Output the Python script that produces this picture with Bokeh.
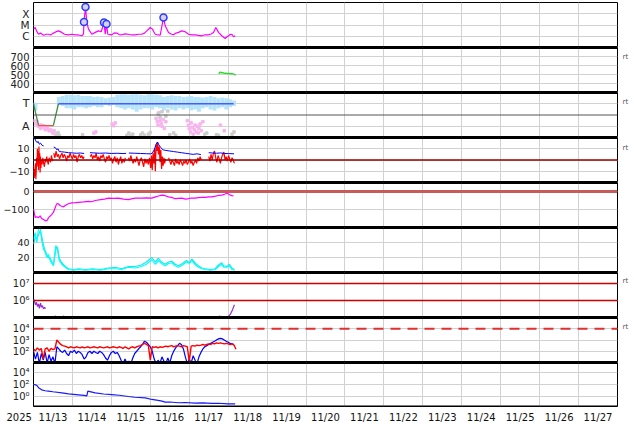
import numpy as np
from bokeh.plotting import figure
from bokeh.layouts import column
from bokeh.models import Range1d, FixedTicker, Span, LinearAxis, LogAxis, AllLabels
from bokeh.embed import file_html
from bokeh.resources import INLINE

nan = float("nan")

# ---------------- data: time in days since 2025-11-13 00:00 UT ----------------
day_ticks = list(range(0, 16))
day_label_t = [d + 0.5 for d in range(15)]
day_labels = ["11/13", "11/14", "11/15", "11/16", "11/17", "11/18", "11/19", "11/20",
              "11/21", "11/22", "11/23", "11/24", "11/25", "11/26", "11/27"]
year_label = "2025"

# panel 1: X-ray flux (W/m2)
xray_t = [0.000, 0.044, 0.077, 0.128, 0.18, 0.257, 0.334, 0.385, 0.437, 0.514,
          0.591, 0.642, 0.727, 0.796, 0.899, 0.976, 1.071, 1.156, 1.241, 1.284,
          1.297, 1.336, 1.369, 1.413, 1.498, 1.585, 1.670, 1.739, 1.811, 1.842,
          1.875, 1.909, 2.011, 2.075, 2.140, 2.2, 2.268, 2.35, 2.440, 2.52,
          2.612, 2.7, 2.782, 2.85, 2.910, 2.998, 3.057, 3.09, 3.126, 3.2,
          3.254, 3.339, 3.383, 3.468, 3.53, 3.596, 3.66, 3.725, 3.809, 3.897,
          3.982, 4.07, 4.154, 4.24, 4.323, 4.41, 4.495, 4.56, 4.624, 4.683,
          4.752, 4.837, 4.924, 4.97, 5.009, 5.05, 5.094, 5.14, 5.181]
xray_v = [4.3e-6, 6.0e-6, 3.0e-6, 1.5e-6, 1.9e-6, 1.23e-6, 1.5e-6, 1.5e-6, 1.3e-6, 1.9e-6,
          2.6e-6, 3.0e-6, 2.2e-6, 1.5e-6, 1.35e-6, 1.5e-6, 1.35e-6, 1.3e-6, 1.1e-6, 1.6e-6,
          1.85e-5, 4.0e-4, 1.66e-5, 4.3e-6, 1.5e-6, 2.2e-6, 3.0e-6, 2.5e-6, 1.66e-5, 1.5e-6,
          1.23e-5, 1.5e-6, 1.35e-6, 2.0e-6, 1.9e-6, 1.4e-6, 1.35e-6, 1.6e-6, 1.5e-6, 1.3e-6,
          1.35e-6, 1.5e-6, 1.5e-6, 1.9e-6, 3.0e-6, 6.0e-6, 4.3e-6, 2.5e-6, 1.5e-6, 1.3e-6,
          1.23e-6, 4.6e-5, 8.5e-6, 2.2e-6, 1.6e-6, 1.35e-6, 1.9e-6, 2.2e-6, 3.0e-6, 2.5e-6,
          1.5e-6, 1.35e-6, 1.35e-6, 1.2e-6, 1.1e-6, 1.35e-6, 1.35e-6, 1.6e-6, 2.2e-6, 6.0e-6,
          2.2e-6, 1.1e-6, 6.3e-7, 9e-7, 1.1e-6, 1.4e-6, 1.5e-6, 9e-7, 1.1e-6]
flare_t = [1.297, 1.336, 1.811, 1.875, 3.339]
flare_v = [1.85e-5, 4.0e-4, 1.66e-5, 1.23e-5, 4.6e-5]
xray_ticks = [1e-6, 1e-5, 1e-4]
xray_labels = ["C", "M", "X"]

# panel 2: solar wind speed (km/s)
sw_t = [4.76, 4.78, 4.80, 4.83, 4.86, 4.90, 4.94, 4.98, 5.02, 5.06, 5.10, 5.14, 5.17, 5.19]
sw_v = [505, 522, 526, 518, 520, 512, 515, 510, 512, 508, 511, 505, 500, 492]
sw_ticks = [400, 500, 600, 700]

# panel 3: IMF sector (T = toward, A = away)
sector_t = [0.0, 0.13, 0.51, 0.64, 5.14]
sector_v = [1.0, -0.95, -0.95, 1.0, 1.0]
toward_t = [0.05, 0.65, 0.75, 0.85, 0.95, 1.05, 1.15, 1.25, 1.35, 1.45, 1.55, 1.65, 1.75, 1.85,
            1.95, 2.05, 2.15, 2.25, 2.35, 2.45, 2.55, 2.65, 2.75, 2.85, 2.95, 3.05, 3.15, 3.25,
            3.35, 3.45, 3.55, 3.65, 3.75, 3.85, 3.95, 4.05, 4.15, 4.25, 4.35, 4.45, 4.55, 4.65,
            4.75, 4.85, 4.95, 5.05, 5.15]
toward_lo = [0.4, 0.9, 0.8, 0.6, 0.6, 0.5, 0.7, 0.7, 0.6, 0.7, 0.8, 0.7, 0.7, 0.9, 0.8, 0.9,
             0.7, 0.6, 0.5, 0.6, 0.5, 0.3, 0.5, 0.6, 0.6, 0.5, 0.7, 0.6, 0.4, 0.6, 0.5, 0.4,
             0.6, 0.5, 0.6, 0.4, 0.5, 0.3, 0.6, 0.7, 0.5, 0.4, 0.6, 0.7, 0.5, 0.7, 0.8]
toward_hi = [1.1, 1.6, 1.7, 1.8, 1.8, 1.75, 1.8, 1.7, 1.7, 1.7, 1.6, 1.65, 1.6, 1.5, 1.55, 1.6,
             1.8, 1.85, 1.85, 1.8, 1.85, 1.85, 1.8, 1.75, 1.85, 1.85, 1.8, 1.75, 1.6, 1.7, 1.75,
             1.7, 1.7, 1.6, 1.65, 1.7, 1.6, 1.6, 1.55, 1.6, 1.7, 1.6, 1.5, 1.55, 1.5, 1.4, 1.3]
away_t = [0.03, 0.06, 0.09, 0.12, 0.15, 0.18, 0.20, 0.23, 0.26, 0.30, 0.33, 0.36, 0.40, 0.44,
          0.48, 0.50, 0.53, 0.56, 1.55, 1.60, 2.02, 2.06, 2.10, 3.15, 3.18, 3.20, 3.22, 3.25,
          3.28, 3.30, 3.33, 3.36, 3.40, 3.95, 3.98, 4.00, 4.03, 4.05, 4.08, 4.10, 4.13, 4.15,
          4.18, 4.20, 4.23, 4.25, 4.28, 4.31, 4.35, 4.80, 4.90]
away_v = [-0.5, -0.8, -0.6, -1.0, -0.9, -1.2, -0.9, -1.1, -0.95, -1.3, -1.05, -1.2, -1.4, -1.3,
          -1.5, -1.6, -1.4, -1.7, -1.6, -1.5, -0.8, -0.95, -0.7, -0.3, -0.6, -0.9, 0.2, -0.5,
          -0.75, -1.0, -0.4, -1.2, -0.6, -0.5, -0.9, -1.2, -1.5, -0.7, -1.1, -1.7, -1.3, -0.9,
          -1.5, -1.0, -1.6, -1.2, -0.8, -1.4, -0.6, -0.9, -1.4]
undef_t = [0.60, 0.63, 0.66, 1.26, 2.40, 2.45, 2.50, 2.55, 2.75, 2.80, 2.85, 2.95, 3.00, 3.20,
           3.25, 3.30, 3.40, 3.45, 3.50, 3.60, 3.65, 4.40, 4.45, 4.70, 4.75, 5.10, 5.15]
undef_v = [-1.7, -1.55, -1.8, -1.75, -1.8, -1.6, -1.85, -1.7, -1.75, -1.6, -1.8, -1.7, -1.55, 0.1,
           -0.2, 0.3, -0.1, 0.35, -1.75, -1.6, -1.8, -1.7, -1.6, -1.75, -1.8, -1.7, -1.5]
sector_ticks = [-1, 1]
sector_labels = ["A", "T"]

# panel 4: IMF Bt and Bz (nT)
bt_t = [0.00, 0.03, 0.06, 0.09, 0.12, 0.15, 0.18, 0.22, 0.26, 0.30,
        0.52, 0.56, 0.60, 0.63, 0.66, 0.72, 0.80, 0.90, 1.00, 1.10, 1.20, 1.30, 1.33,
        1.45, 1.55, 1.70, 1.85, 2.00, 2.15, 2.30, 2.38, 2.42,
        2.45, 2.60, 2.75, 2.90, 3.00, 3.05, 3.10, 3.15, 3.18, 3.22, 3.27, 3.33, 3.40, 3.50,
        3.60, 3.70, 3.80, 3.90, 4.00, 4.10, 4.20, 4.30, 4.35,
        4.50, 4.60, 4.70, 4.80, 4.90, 5.00, 5.10, 5.15]
bt_v = [18, 19.5, 17, 15.5, 16.5, 14, 15, 13, 12.5, nan,
        11.5, 11, 9, 10, 7.5, 7.3, 7, 6.5, 6.3, 6.0, 6.2, 5.8, nan,
        6.5, 6.3, 6.0, 6.2, 5.8, 6.0, 5.7, 5.9, nan,
        6.2, 6.0, 5.8, 5.6, 5.5, 6, 9, 14, 16, 13.5, 11, 9, 8.5, 8,
        7.5, 7, 6.5, 6, 5.5, 5.0, 5.5, 4.8, nan,
        6.5, 6.2, 6.0, 6.3, 5.8, 5.7, 5.6, 5.5]
# Bz: (start day, sampling step in days, values) blocks; a gap follows where flagged
bz_blocks = [
    (0.00, 0.01, [-5, -12, -16, -8, -14, -3, -17, -10, 2, -6, 10, -4, 8, -9, 12, -2, 6, -11, 3, -7, 0]),
    (0.22, 0.02, [-4, 2, -3, -6, 1, -2, 3, -1, -4, 2, 0, -2, 4, 1, -1]),
    (0.52, 0.03, [6, 2, 8, 3, 5, 1, 4, 6, 2, 5, 3, -1, 4, 2, 6, 3, 1, 5, 2, 4, -2, 3, 5, 2, 4, 1, 3]),
    (1.46, 0.03, [3, 5, 1, 4, 2, 6, 0, 3, -1, 4, 2, 5, 1, -2, 3, 1, 4, 0, 2, -3, 1, 3, -2, 2, -4, 0, 3, -3, 1, -2, 2]),
    (2.44, 0.03, [2, -1, 4, 0, -3, 1, -2, 3, -1, -5, 0, 2, -2, -6, 1, -3, 0, -4, 2, -7]),
    (3.03, 0.02, [4, -9, 6, -3, 10, -10, 14, 8, 16, 5, 12, -2, 9, -8, 3, -5, 2, -3, 1]),
    (3.47, 0.03, [2, -1, -4, 0, -2, -5, 1, -3, -1, -4, 0, -2, -5, -1, -3, 0, -4, -2, 1, -3, -1, -5, -2, 0, -3, 2, -1, 3, 0]),
    (4.50, 0.03, [3, -1, 5, 0, 6, 8, 2, -2, 4, 1, -3, 2, 5, 7, 0, 3, -1, 4, 1, -2, 2, 0, -3]),
]
bz_gap_after = [False, True, True, True, False, True, True, False]
imf_ticks = [-10, 0, 10]
imf_labels = ["\u221210", "0", "10"]

# panel 5: Dst (nT)
dst_t = [0, 0.044, 0.077, 0.128, 0.172, 0.205, 0.257, 0.316, 0.36, 0.385, 0.437, 0.47, 0.514,
         0.557, 0.591, 0.624, 0.686, 0.719, 0.771, 0.855, 0.899, 0.984, 1.079, 1.156, 1.284,
         1.413, 1.49, 1.585, 1.721, 1.824, 1.927, 2.055, 2.183, 2.312, 2.44, 2.543, 2.612,
         2.782, 2.903, 3.039, 3.134, 3.211, 3.296, 3.365, 3.468, 3.545, 3.64, 3.725, 3.809,
         3.904, 3.982, 4.058, 4.154, 4.238, 4.323, 4.418, 4.495, 4.58, 4.675, 4.752, 4.837,
         4.906, 4.966, 5.009, 5.053, 5.099, 5.137]
dst_v = [-98, -145, -140, -145, -135, -150, -155, -164, -158, -145, -135, -127, -115, -90, -70,
         -67, -78, -82, -85, -72, -68, -63, -62, -60, -58, -55, -57, -50, -45, -42, -37, -38,
         -37, -42, -45, -40, -37, -37, -35, -37, -30, -25, -20, -22, -30, -33, -40, -38, -37,
         -42, -40, -36, -37, -34, -32, -33, -30, -30, -26, -22, -20, -15, -10, -14, -20, -23, -25]
dst_ticks = [-100, 0]
dst_labels = ["\u2212100", "0"]

# panel 6: proton density (p/cc), two sources
dens_t = [0.0, 0.044, 0.085, 0.128, 0.172, 0.213, 0.257, 0.30, 0.342, 0.385, 0.429, 0.47, 0.514,
          0.573, 0.616, 0.66, 0.727, 0.814, 0.899, 1.03, 1.156, 1.336, 1.516, 1.721, 1.927, 2.1,
          2.26, 2.44, 2.62, 2.77, 2.90, 3.04, 3.126, 3.211, 3.288, 3.383, 3.468, 3.553, 3.64,
          3.725, 3.827, 3.93, 4.007, 4.066, 4.161, 4.238, 4.323, 4.41, 4.547, 4.667, 4.752,
          4.837, 4.88, 4.966, 5.035, 5.094, 5.163]
dens1_v = [44, 53, 40, 58, 60, 42, 31, 27, 20, 24, 16, 12, 9, 36, 31, 16, 11, 7, 4, 3, 4, 3, 4, 3,
           5, 5, 4, 7, 6, 8, 11, 17, 11, 16, 12, 9, 12, 13, 9, 7, 10, 14, 12, 16, 10, 7, 5, 4, 3,
           4, 8, 11, 7, 7, 9, 4, 3]
dens2_v = [38, 47, 45, 50, 56, 48, 36, 29, 24, 20, 19, 14, 11, 31, 34, 19, 13, 8, 5, 4, 5, 4, 5, 4,
           6, 7, 5, 8, 8, 10, 14, 20, 14, 19, 14, 11, 14, 15, 11, 9, 12, 16, 13, 18, 12, 9, 6, 5, 4,
           5, 10, 13, 9, 8, 11, 6, 4]
dens_ticks = [20, 40]

# panel 7: electron series
e_t = [0.0, 0.026, 0.05, 0.077, 0.1, 0.128, 0.15, 0.18, 0.205, 0.23, 0.257, 0.283, 0.31, nan,
       0.56, 0.565, nan, 0.77, 0.775, nan, 3.29, 3.295, nan, 4.78, 4.785, nan, 4.93, 4.935, nan,
       5.01, 5.06, 5.11, 5.16]
e_v = [1.26e6, 8.9e5, 5.6e5, 7.9e5, 4.5e5, 6.3e5, 3.5e5, 7.1e5, 4.0e5, 5.0e5, 3.2e5, 4.0e5, 3.3e5, nan,
       1.0e5, 1.3e5, nan, 1.0e5, 1.3e5, nan, 1.0e5, 1.25e5, nan, 1.0e5, 1.3e5, nan, 1.0e5, 1.2e5, nan,
       1.2e5, 1.6e5, 2.8e5, 5.6e5]
e_ticks = [1e6, 1e7]
e_labels = ["10\u2076", "10\u2077"]

# panel 8: electron flux, two channels, sampled every 0.05 day
flux_step = 0.05
flux_blue = [100, 20, 79, 8, 63, 16, 79, 9, 50, 13, 32, 8, 250, 160, 100, 79, 126, 63, 40, 100,
             79, 126, 63, 100, 79, 50, 20, 32, 79, 100, 63, 100, 79, 63, 100, 79, 50, 25, 16, 40,
             79, 100, 63, 79, 40, 16, 8, 20, 9, 13, 8, 25, 63, 100, 160, 250, 400, 790, 630, 400,
             250, 100, 20, 8, 16, 9, 32, 13, 8, 25, 9, 40, 100, 200, 316, 500, 400, 160, 32, 8,
             20, 9, 40, 16, 8, 32, 79, 160, 250, 316, 400, 500, 630, 790, 1000, 1260, 1400, 1260,
             1000, 790, 630, 500, 450, 400]
flux_red = [160, 112, 200, 126, 178, 20, 160, 200, 100, 178, 141, 160, 1000, 630, 400, 316, 282,
            250, 200, 250, 224, 200, 250, 224, 200, 250, 200, 224, 250, 200, 224, 250, 224, 200,
            250, 224, 200, 224, 250, 200, 224, 250, 224, 200, 250, 224, 178, 250, 200, 160, 224,
            250, 200, 250, 282, 316, 400, 500, 400, 316, 16, 250, 224, 250, 200, 250, 224, 250,
            282, 250, 282, 316, 250, 282, 316, 282, 250, 316, 282, 250, 12, 282, 316, 282, 355,
            316, 355, 400, 355, 400, 450, 400, 500, 450, 560, 500, 560, 500, 450, 500, 450, 400,
            450, 355, 150]
flux_ticks = [1e2, 1e3, 1e4]
flux_labels = ["10\u00b2", "10\u00b3", "10\u2074"]
flux_threshold = 1e4

# panel 9: decaying proton flux
p9_t = [0.0, 0.04, 0.085, 0.13, 0.21, 0.3, 0.38, 0.5, 0.73, 0.9, 1.16, 1.3, 1.37, 1.395, 1.45,
        1.585, 1.8, 2.01, 2.2, 2.44, 2.6, 2.87, 3.04, 3.2, 3.3, 3.383, 3.5, 3.725, 3.9, 4.15,
        4.35, 4.58, 4.75, 5.0, 5.18]
p9_v = [100, 95, 70, 30, 13, 9, 7.8, 6.2, 4.1, 2.8, 1.9, 1.5, 1.3, 7.8, 6.5, 4.1, 2.6, 2.1, 1.6,
        1.0, 0.75, 0.6, 0.32, 0.22, 0.17, 0.115, 0.12, 0.09, 0.1, 0.078, 0.085, 0.07, 0.075,
        0.06, 0.06]
p9_ticks = [1, 1e2, 1e4]
p9_labels = ["10\u2070", "10\u00b2", "10\u2074"]

# "rt" marker level on the right of some panels (value in each panel's units)
rt_label = "rt"

# ---------------- build ----------------
FONT = "DejaVu Sans"
GRID = "#d2d2d2"
XR = Range1d(0, 15)


def style_axis(ax, size, color="#222222", standoff=4):
    ax.major_tick_line_color = None
    ax.minor_tick_line_color = None
    ax.major_tick_out = 0
    ax.major_tick_in = 0
    ax.minor_tick_out = 0
    ax.axis_line_color = None
    ax.major_label_standoff = standoff
    ax.major_label_text_font = FONT
    ax.major_label_text_font_size = size
    ax.major_label_text_color = color


def make_panel(yr, ticks, labels, log=False, frame_h=45, top=0, bottom=0,
               size="9.5px", rt=None):
    p = figure(frame_width=584, frame_height=frame_h, x_range=XR, y_range=yr,
               y_axis_type="log" if log else "linear",
               x_axis_location="below" if bottom else None,
               output_backend="svg", toolbar_location=None, title=None,
               min_border_left=41, min_border_right=17,
               min_border_top=top, min_border_bottom=bottom)
    p.background_fill_color = "white"
    p.border_fill_color = "white"
    p.outline_line_color = "black"
    p.outline_line_width = 1
    ax = p.yaxis[0]
    ax.ticker = FixedTicker(ticks=ticks)
    ax.major_label_overrides = {t: l for t, l in zip(ticks, labels)}
    style_axis(ax, size)
    p.ygrid.ticker = FixedTicker(ticks=ticks)
    p.ygrid.grid_line_color = GRID
    p.xgrid.ticker = FixedTicker(ticks=day_ticks)
    p.xgrid.grid_line_color = GRID
    if top <= 2:
        p.add_layout(Span(location=yr.end, dimension="width", line_color="black", line_width=3))
    if bottom == 0:
        p.add_layout(Span(location=yr.start, dimension="width", line_color="black", line_width=3))
    else:
        p.add_layout(Span(location=yr.start, dimension="width", line_color="black", line_width=2))
    if rt is not None:
        ra = LogAxis() if log else LinearAxis()
        ra.ticker = FixedTicker(ticks=[rt])
        ra.major_label_overrides = {rt: rt_label}
        style_axis(ra, "7px", color="#555555", standoff=5)
        p.add_layout(ra, "right")
    return p


figs = []

# 1 X-ray
p1 = make_panel(Range1d(1e-7, 1e-3), xray_ticks, xray_labels, log=True, top=10, size="10.5px")
p1.line(xray_t, xray_v, line_color="#ff00ff", line_width=1.2)
p1.scatter(flare_t, flare_v, marker="circle", size=7, line_color="#2a3cff",
           fill_color="#d8d0ff", line_width=1.5)
figs.append(p1)

# 2 speed
p2 = make_panel(Range1d(300, 800), sw_ticks, [str(v) for v in sw_ticks], rt=700, size="10px")
p2.line(sw_t, sw_v, line_color="#22dd22", line_width=1.3)
figs.append(p2)

# 3 sector
p3 = make_panel(Range1d(-2, 2), sector_ticks, sector_labels, rt=1.2, size="11px")
p3.vbar(x=toward_t, width=0.1, bottom=toward_lo, top=toward_hi, fill_color="#aee2fb",
        line_color=None, fill_alpha=0.9)
p3.scatter(away_t, away_v, marker="square", size=2.5, color="#f8b4ee")
p3.scatter(undef_t, undef_v, marker="square", size=2.5, color="#cccccc")
p3.add_layout(Span(location=0, dimension="width", line_color="#555555", line_width=1))
p3.line(sector_t[0:2], sector_v[0:2], line_color="#3f8f3f", line_width=1.3)
p3.line(sector_t[1:3], sector_v[1:3], line_color="#ff4a4a", line_width=1.3)
p3.line(sector_t[2:4], sector_v[2:4], line_color="#3f8f3f", line_width=1.3)
p3.line(sector_t[3:5], sector_v[3:5], line_color="#4a5aff", line_width=1.5)
figs.append(p3)

# 4 IMF
bz_t, bz_v = [], []
for (t0, dt, vals), gap in zip(bz_blocks, bz_gap_after):
    bz_t += [round(t0 + i * dt, 3) for i in range(len(vals))]
    bz_v += list(vals)
    if gap:
        bz_t.append(round(t0 + len(vals) * dt, 3))
        bz_v.append(nan)
p4 = make_panel(Range1d(-20, 20), imf_ticks, imf_labels, rt=11, size="9.5px")
p4.line(bz_t, bz_v, line_color="#ff0000", line_width=1.2)
p4.line(bt_t, bt_v, line_color="#0000ff", line_width=1.0)
p4.add_layout(Span(location=0, dimension="width", line_color="#990000", line_width=1.3))
figs.append(p4)

# 5 Dst
p5 = make_panel(Range1d(-200, 50), dst_ticks, dst_labels, size="9.5px")
p5.add_layout(Span(location=0, dimension="width", line_color="#c85a5a", line_width=3))
p5.line(dst_t, dst_v, line_color="#ff00ff", line_width=1.2)
figs.append(p5)

# 6 density
p6 = make_panel(Range1d(0, 60), dens_ticks, [str(v) for v in dens_ticks], size="9.5px")
p6.line(dens_t, dens2_v, line_color="#1ee6e6", line_width=1.2)
p6.line(dens_t, dens1_v, line_color="#00ffff", line_width=1.2)
figs.append(p6)

# 7 electrons
p7 = make_panel(Range1d(1e5, 4.47e7), e_ticks, e_labels, log=True, rt=1.32e7, size="10px")
for lv in e_ticks:
    p7.add_layout(Span(location=lv, dimension="width", line_color="#cc0000", line_width=1.5))
p7.line(e_t, e_v, line_color="#9a2ad0", line_width=1.2)
figs.append(p7)

# 8 flux
flux_t_blue = [round(i * flux_step, 3) for i in range(len(flux_blue))]
flux_t_red = [round(i * flux_step, 3) for i in range(len(flux_red))]
p8 = make_panel(Range1d(10, 1e5), flux_ticks, flux_labels, log=True, rt=1.3e4, size="10px")
p8.add_layout(Span(location=flux_threshold, dimension="width", line_color="#e03030",
                   line_width=1.8, line_dash="10 7"))
p8.line(flux_t_blue, flux_blue, line_color="#0000ff", line_width=1.2)
p8.line(flux_t_red, flux_red, line_color="#ff0000", line_width=1.4)
figs.append(p8)

# 9 protons (bottom, with time axis)
yr9 = Range1d(0.0215, 4.64e5)
p9 = make_panel(yr9, p9_ticks, p9_labels, log=True, frame_h=44, bottom=18, size="10px")
p9.line(p9_t, p9_v, line_color="#1a1aff", line_width=1.2)
xa = p9.xaxis[0]
x_ticks = [0] + day_label_t
x_labels = [year_label + "\u00a0" * 9] + day_labels
xa.ticker = FixedTicker(ticks=x_ticks)
xa.major_label_overrides = {t: l for t, l in zip(x_ticks, x_labels)}
xa.major_label_policy = AllLabels()
style_axis(xa, "10px", color="#111111", standoff=5)
figs.append(p9)

layout = column(*figs, spacing=0,
                styles={"margin-left": "-8px", "margin-top": "-8px", "margin-bottom": "-8px"})

open("out.html", "w").write(file_html(layout, INLINE))
